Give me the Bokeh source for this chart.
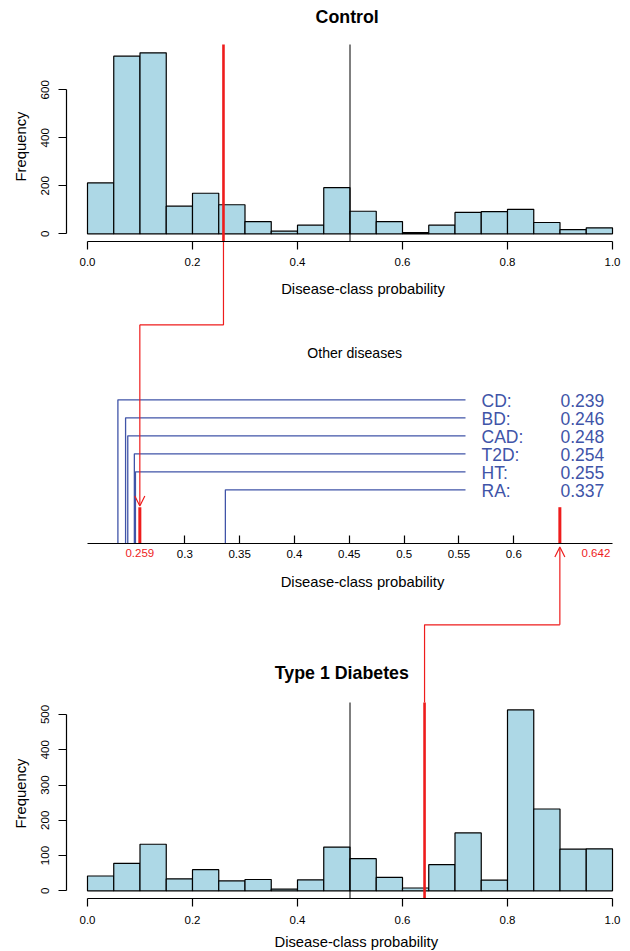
import math
from bokeh.plotting import figure
from bokeh.models import Range1d, LinearAxis, FixedTicker, Label, Arrow, OpenHead
from bokeh.core.properties import value
from bokeh.embed import file_html
from bokeh.resources import INLINE

# ---------------- data ----------------
bin_edges = [0.0, 0.05, 0.1, 0.15, 0.2, 0.25, 0.3, 0.35, 0.4, 0.45, 0.5,
             0.55, 0.6, 0.65, 0.7, 0.75, 0.8, 0.85, 0.9, 0.95, 1.0]
control_counts = [212, 740, 754, 115, 169, 121, 51, 11, 36, 192,
                  94, 51, 5, 36, 89, 92, 102, 47, 17, 25]
t1d_counts = [42, 78, 132, 34, 60, 28, 32, 5, 31, 124,
              91, 38, 8, 74, 164, 30, 513, 232, 118, 119]
diseases = ["CD", "BD", "CAD", "T2D", "HT", "RA"]
disease_probs = [0.239, 0.246, 0.248, 0.254, 0.255, 0.337]
control_prob = 0.259
t1d_prob = 0.642
cutoff = 0.5
x_ticks = [0.0, 0.2, 0.4, 0.6, 0.8, 1.0]
x_tick_labels = ["0.0", "0.2", "0.4", "0.6", "0.8", "1.0"]
top_y_ticks = [0, 200, 400, 600]
top_y_tick_labels = ["0", "200", "400", "600"]
bot_y_ticks = [0, 100, 200, 300, 400, 500]
bot_y_tick_labels = ["0", "100", "200", "300", "400", "500"]
mid_ticks = [0.3, 0.35, 0.4, 0.45, 0.5, 0.55, 0.6]
mid_tick_labels = ["0.3", "0.35", "0.4", "0.45", "0.5", "0.55", "0.6"]

# ---------------- layout helpers (page pixels -> range units) ----------------
W, H = 630, 951
OX, OY = 0, 0
TDY = 5.5   # text baseline correction (px)


class XScale:
    def __init__(self, px_a, v_a, px_b, v_b):
        self.ppu = (px_b - px_a) / (v_b - v_a)
        self.start = v_a - (px_a - OX) / self.ppu
        self.end = self.start + W / self.ppu

    def at(self, px):
        return self.start + (px - OX) / self.ppu

    def px(self, v):
        return OX + (v - self.start) * self.ppu


class YScale:
    def __init__(self, py_a, v_a, py_b, v_b):
        self.ppu = (py_a - py_b) / (v_b - v_a)
        self.end = v_a + (py_a - OY) / self.ppu
        self.start = self.end - H / self.ppu

    def at(self, py):
        return self.end - (py - OY) / self.ppu


XP = XScale(87, 0.0, 612, 1.0)
XM = XScale(184.3, 0.3, 513.3, 0.6)
YT = YScale(233.3, 0, 89.3, 600)
YB = YScale(890.3, 0, 714.0, 500)
YM = YScale(543.3, 0, 525.3, 1)

FONT = "Liberation Sans"
BLUE = "#4054A8"
RED = "#EE1C1C"
FILL = "#ADD8E6"

p = figure(width=W, height=H,
           x_range=Range1d(XP.start, XP.end), y_range=Range1d(YT.start, YT.end),
           output_backend="svg", toolbar_location=None,
           x_axis_location=None, y_axis_location=None, min_border=0,
           outline_line_color=None)
p.extra_x_ranges = {"xmid": Range1d(XM.start, XM.end)}
p.extra_y_ranges = {"ybot": Range1d(YB.start, YB.end), "ymid": Range1d(YM.start, YM.end)}
p.background_fill_color = "white"
p.border_fill_color = "white"
p.grid.grid_line_color = None
p.grid.visible = False

# ---------------- histograms ----------------
p.quad(left=bin_edges[:-1], right=bin_edges[1:], bottom=0, top=control_counts,
       fill_color=FILL, line_color="black", line_width=1.2)
p.quad(left=bin_edges[:-1], right=bin_edges[1:], bottom=0, top=t1d_counts,
       fill_color=FILL, line_color="black", line_width=1.2, y_range_name="ybot")


def style_axis(ax, size="11.5px"):
    ax.axis_line_color = "black"
    ax.axis_line_width = 1.2
    ax.major_tick_line_color = "black"
    ax.major_tick_line_width = 1.2
    ax.minor_tick_line_color = None
    ax.major_label_text_font = FONT
    ax.major_label_text_font_size = size
    ax.major_label_text_color = "black"


TOP_AXIS_PY, TOP_REGION_PY = 240.5, 44
BOT_AXIS_PY, BOT_REGION_PY = 898.3, 702
YAX_PX = 65.7

# x axes of the histograms
for rname, ys in (("default", YT), ("ybot", YB)):
    axis_py = TOP_AXIS_PY if rname == "default" else BOT_AXIS_PY
    ax = LinearAxis(y_range_name=rname, fixed_location=ys.at(axis_py), bounds=(0.0, 1.0),
                    ticker=FixedTicker(ticks=x_ticks),
                    major_label_overrides=dict(zip(x_ticks, x_tick_labels)),
                    major_tick_in=0, major_tick_out=8, major_label_standoff=9)
    style_axis(ax)
    p.add_layout(ax, "below")

# y axes of the histograms
for rname, ticks, labels in (("default", top_y_ticks, top_y_tick_labels),
                             ("ybot", bot_y_ticks, bot_y_tick_labels)):
    ax = LinearAxis(y_range_name=rname, fixed_location=XP.at(YAX_PX),
                    bounds=(ticks[0], ticks[-1]),
                    ticker=FixedTicker(ticks=ticks),
                    major_label_overrides=dict(zip(ticks, labels)),
                    major_label_orientation="vertical",
                    major_tick_in=0, major_tick_out=8, major_label_standoff=9)
    style_axis(ax)
    p.add_layout(ax, "left")

# middle axis
max_ = LinearAxis(x_range_name="xmid", y_range_name="ymid", fixed_location=0,
                  bounds=(XM.at(86.7), XM.at(611.7)),
                  ticker=FixedTicker(ticks=mid_ticks),
                  major_label_overrides=dict(zip(mid_ticks, mid_tick_labels)),
                  major_tick_in=8, major_tick_out=0, major_label_standoff=6)
style_axis(max_)
p.add_layout(max_, "below")

# ---------------- reference lines ----------------
p.segment(x0=[cutoff], y0=[YT.at(TOP_AXIS_PY)], x1=[cutoff], y1=[YT.at(TOP_REGION_PY)],
          line_color="black", line_width=1)
p.segment(x0=[cutoff], y0=[YB.at(BOT_AXIS_PY)], x1=[cutoff], y1=[YB.at(BOT_REGION_PY)],
          line_color="black", line_width=1, y_range_name="ybot")
p.segment(x0=[control_prob], y0=[YT.at(TOP_AXIS_PY)], x1=[control_prob], y1=[YT.at(TOP_REGION_PY)],
          line_color=RED, line_width=2.6)
p.segment(x0=[t1d_prob], y0=[YB.at(BOT_AXIS_PY)], x1=[t1d_prob], y1=[YB.at(BOT_REGION_PY)],
          line_color=RED, line_width=2.6, y_range_name="ybot")

# ---------------- connectors ----------------
CONN1_PY, CONN2_PY = 324.3, 624.3
p.line(x=[control_prob, control_prob, XP.at(XM.px(control_prob))],
       y=[YT.at(TOP_AXIS_PY), YT.at(CONN1_PY), YT.at(CONN1_PY)],
       line_color=RED, line_width=1.2)
p.add_layout(Arrow(end=OpenHead(size=10, line_color=RED, line_width=1.2),
                   x_start=control_prob, y_start=YM.at(CONN1_PY),
                   x_end=control_prob, y_end=YM.at(505.5),
                   x_range_name="xmid", y_range_name="ymid",
                   line_color=RED, line_width=1.2))
p.add_layout(Arrow(end=OpenHead(size=10, line_color=RED, line_width=1.2),
                   x_start=t1d_prob, y_start=YM.at(CONN2_PY),
                   x_end=t1d_prob, y_end=YM.at(546.5),
                   x_range_name="xmid", y_range_name="ymid",
                   line_color=RED, line_width=1.2))
p.line(x=[XP.at(XM.px(t1d_prob)), t1d_prob, t1d_prob],
       y=[YB.at(CONN2_PY), YB.at(CONN2_PY), YB.at(BOT_REGION_PY)],
       line_color=RED, line_width=1.2, y_range_name="ybot")
p.segment(x0=[control_prob, t1d_prob], y0=[0, 0], x1=[control_prob, t1d_prob],
          y1=[YM.at(506.7)] * 2, line_color=RED, line_width=3,
          x_range_name="xmid", y_range_name="ymid")

# ---------------- middle panel: other diseases ----------------
row_py = [399.3 + 18 * i for i in range(len(diseases))]
levels = [YM.at(py) for py in row_py]
line_end = XM.at(465)
p.multi_line(xs=[[v, v, line_end] for v in disease_probs],
             ys=[[0, l, l] for l in levels],
             line_color=BLUE, line_width=1.3, x_range_name="xmid", y_range_name="ymid")
text_y = [YM.at(py + 6.3 - TDY) for py in row_py]
p.text(x=[XM.at(481)] * len(diseases), y=text_y,
       text=[d + ":" for d in diseases], text_font=value(FONT), text_font_size="17.5px",
       text_color=BLUE, text_align="left", text_baseline="alphabetic",
       x_range_name="xmid", y_range_name="ymid")
p.text(x=[XM.at(560)] * len(diseases), y=text_y,
       text=["%.3f" % v for v in disease_probs], text_font=value(FONT), text_font_size="17.5px",
       text_color=BLUE, text_align="left", text_baseline="alphabetic",
       x_range_name="xmid", y_range_name="ymid")

# red value labels on the middle axis
lab_y = YM.at(557.5 - TDY)
p.text(x=[control_prob], y=[lab_y], text=["%.3f" % control_prob], text_font=value(FONT),
       text_font_size="11.5px", text_color=RED, text_align="center", text_baseline="alphabetic",
       x_range_name="xmid", y_range_name="ymid")
p.text(x=[XM.at(581)], y=[lab_y], text=["%.3f" % t1d_prob], text_font=value(FONT),
       text_font_size="11.5px", text_color=RED, text_align="left", text_baseline="alphabetic",
       x_range_name="xmid", y_range_name="ymid")

# ---------------- titles and axis labels ----------------
def label(text, px, py, size, bold=False, angle=0.0, align="center"):
    if angle:
        px = px - TDY
    else:
        py = py - TDY
    p.add_layout(Label(x=XP.at(px), y=YT.at(py), text=text, text_font=FONT,
                       text_font_size=size, text_font_style="bold" if bold else "normal",
                       text_color="black", text_align=align, text_baseline="alphabetic",
                       angle=angle))

label("Control", 346.7, 21.7, "17.8px", bold=True)
label("Disease-class probability", 362.5, 294, "14.8px")
label("Frequency", 25.5, 146, "14.8px", angle=math.pi / 2)
label("Other diseases", 354.2, 358, "14.1px")
label("Disease-class probability", 362.0, 587, "14.8px")
label("Type 1 Diabetes", 341.3, 678.3, "17.8px", bold=True)
label("Frequency", 25.5, 793, "14.8px", angle=math.pi / 2)
label("Disease-class probability", 355.8, 946.5, "14.8px")

open("out.html", "w").write(file_html(p, INLINE))
